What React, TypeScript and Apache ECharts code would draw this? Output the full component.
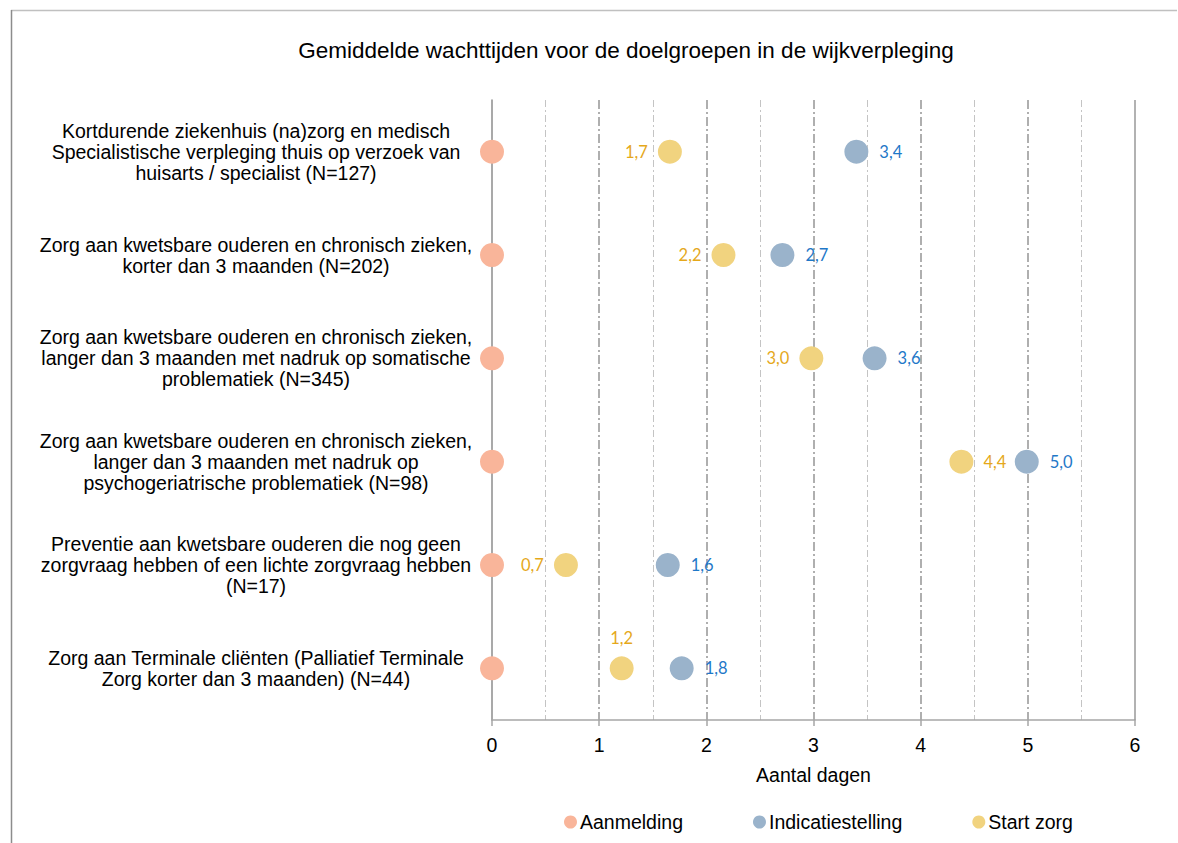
import React, { useEffect, useRef } from "react";
import * as echarts from "echarts";

const categories = [
  "Kortdurende ziekenhuis (na)zorg en medisch\nSpecialistische verpleging thuis op verzoek van\nhuisarts / specialist (N=127)",
  "Zorg aan kwetsbare ouderen en chronisch zieken,\nkorter dan 3 maanden (N=202)",
  "Zorg aan kwetsbare ouderen en chronisch zieken,\nlanger dan 3 maanden met nadruk op somatische\nproblematiek (N=345)",
  "Zorg aan kwetsbare ouderen en chronisch zieken,\nlanger dan 3 maanden met nadruk op\npsychogeriatrische problematiek (N=98)",
  "Preventie aan kwetsbare ouderen die nog geen\nzorgvraag hebben of een lichte zorgvraag hebben\n(N=17)",
  "Zorg aan Terminale cliënten (Palliatief Terminale\nZorg korter dan 3 maanden) (N=44)",
];

const aanmelding = [0, 0, 0, 0, 0, 0];
const indicatiestelling = [3.4, 2.71, 3.57, 4.99, 1.64, 1.77];
const startZorg = [1.66, 2.16, 2.98, 4.38, 0.69, 1.21];
const startLabelPos = ["left", "left", "left", "right", "left", "top"];

const xTicks = [0, 1, 2, 3, 4, 5, 6];

const fmt = (v: number) => v.toFixed(1).replace(".", ",");

export default function App() {
  const ref = useRef<HTMLDivElement>(null);
  useEffect(() => {
    if (!ref.current) return;
    const chart = echarts.init(ref.current, null, { renderer: "svg" });
    const axisFont = "Liberation Sans, Arial, sans-serif";
    chart.setOption({
      animation: false,
      backgroundColor: "#ffffff",
      title: {
        text: "Gemiddelde wachttijden voor de doelgroepen in de wijkverpleging",
        left: 621,
        top: 34,
        textAlign: "center",
        textStyle: { fontFamily: axisFont, fontSize: 22.5, fontWeight: "normal", color: "#000" },
      },
      graphic: [
        { type: "line", shape: { x1: 11, y1: 10.5, x2: 1177, y2: 10.5 }, style: { stroke: "#C0C0C0", lineWidth: 1.5 } },
        { type: "line", shape: { x1: 11.5, y1: 10, x2: 11.5, y2: 843 }, style: { stroke: "#8C8C8C", lineWidth: 1.5 } },
      ],
      legend: {
        left: 559,
        top: 807,
        itemGap: 70,
        itemWidth: 13,
        itemHeight: 13,
        icon: "circle",
        textStyle: { fontFamily: axisFont, fontSize: 19.5, color: "#000", padding: [0, 0, 0, -2] },
        data: ["Aanmelding", "Indicatiestelling", "Start zorg"],
      },
      grid: { left: 492, right: 43, top: 100, bottom: 123, containLabel: false },
      xAxis: {
        type: "value",
        min: xTicks[0],
        max: xTicks[xTicks.length - 1],
        interval: 1,
        name: "Aantal dagen",
        nameLocation: "middle",
        nameGap: 45,
        nameTextStyle: { fontFamily: axisFont, fontSize: 19.5, color: "#000" },
        axisLine: { show: true, lineStyle: { color: "#A6A6A6", width: 1.5 } },
        axisTick: { show: true, length: 6, lineStyle: { color: "#A6A6A6", width: 1.5 } },
        axisLabel: { fontFamily: axisFont, fontSize: 19.5, color: "#000", margin: 15 },
        splitLine: {
          show: true,
          lineStyle: {
            color: ["transparent", "#9C9C9C", "#9C9C9C", "#9C9C9C", "#9C9C9C", "#9C9C9C", "transparent"],
            width: 1.6,
            type: [9, 3, 2, 3],
          },
        },
        minorTick: { show: false, splitNumber: 2 },
        minorSplitLine: { show: true, lineStyle: { color: "#C4C4C4", width: 1, type: [7, 3, 2, 3] } },
      },
      yAxis: {
        type: "category",
        inverse: true,
        data: categories,
        axisLine: { show: true, lineStyle: { color: "#8C8C8C", width: 1.5 } },
        axisTick: { show: false },
        splitLine: { show: false },
        axisLabel: {
          margin: 16,
          formatter: (v: string) =>
            v
              .split("\n")
              .map((l) => "{a|" + l + "}")
              .join("\n"),
          rich: {
            a: {
              width: 440,
              align: "center",
              fontFamily: axisFont,
              fontSize: 19.5,
              lineHeight: 21,
              color: "#000",
            },
          },
        },
      },
      series: [
        {
          name: "Aanmelding",
          type: "scatter",
          symbolSize: 24,
          itemStyle: { color: "#F9B59A", opacity: 1 },
          data: aanmelding.map((v, i) => [v, categories[i]]),
          z: 3,
          markLine: {
            silent: true,
            symbol: "none",
            label: { show: false },
            lineStyle: { color: "#999999", width: 1.5, type: "solid" },
            data: [{ xAxis: 6 }],
          },
        },
        {
          name: "Indicatiestelling",
          type: "scatter",
          symbolSize: 24,
          itemStyle: { color: "#9AB3CB", opacity: 1 },
          label: {
            show: true,
            position: "right",
            distance: 11,
            color: "#1F78C8",
            fontFamily: "Lato, sans-serif",
            fontSize: 16.5,
            formatter: (p: any) => fmt(p.value[0]),
          },
          data: indicatiestelling.map((v, i) => [v, categories[i]]),
        },
        {
          name: "Start zorg",
          type: "scatter",
          symbolSize: 24,
          itemStyle: { color: "#F1D37F", opacity: 1 },
          label: {
            show: true,
            distance: 10,
            color: "#E5A81B",
            fontFamily: "Lato, sans-serif",
            fontSize: 16.5,
            formatter: (p: any) => fmt(p.value[0]),
          },
          data: startZorg.map((v, i) => ({
            value: [v, categories[i]],
            label: { position: startLabelPos[i] },
          })),
        },
      ],
    });
    return () => chart.dispose();
  }, []);
  return <div ref={ref} style={{ width: 1178, height: 843, position: "absolute", left: 0, top: 0 }} />;
}
